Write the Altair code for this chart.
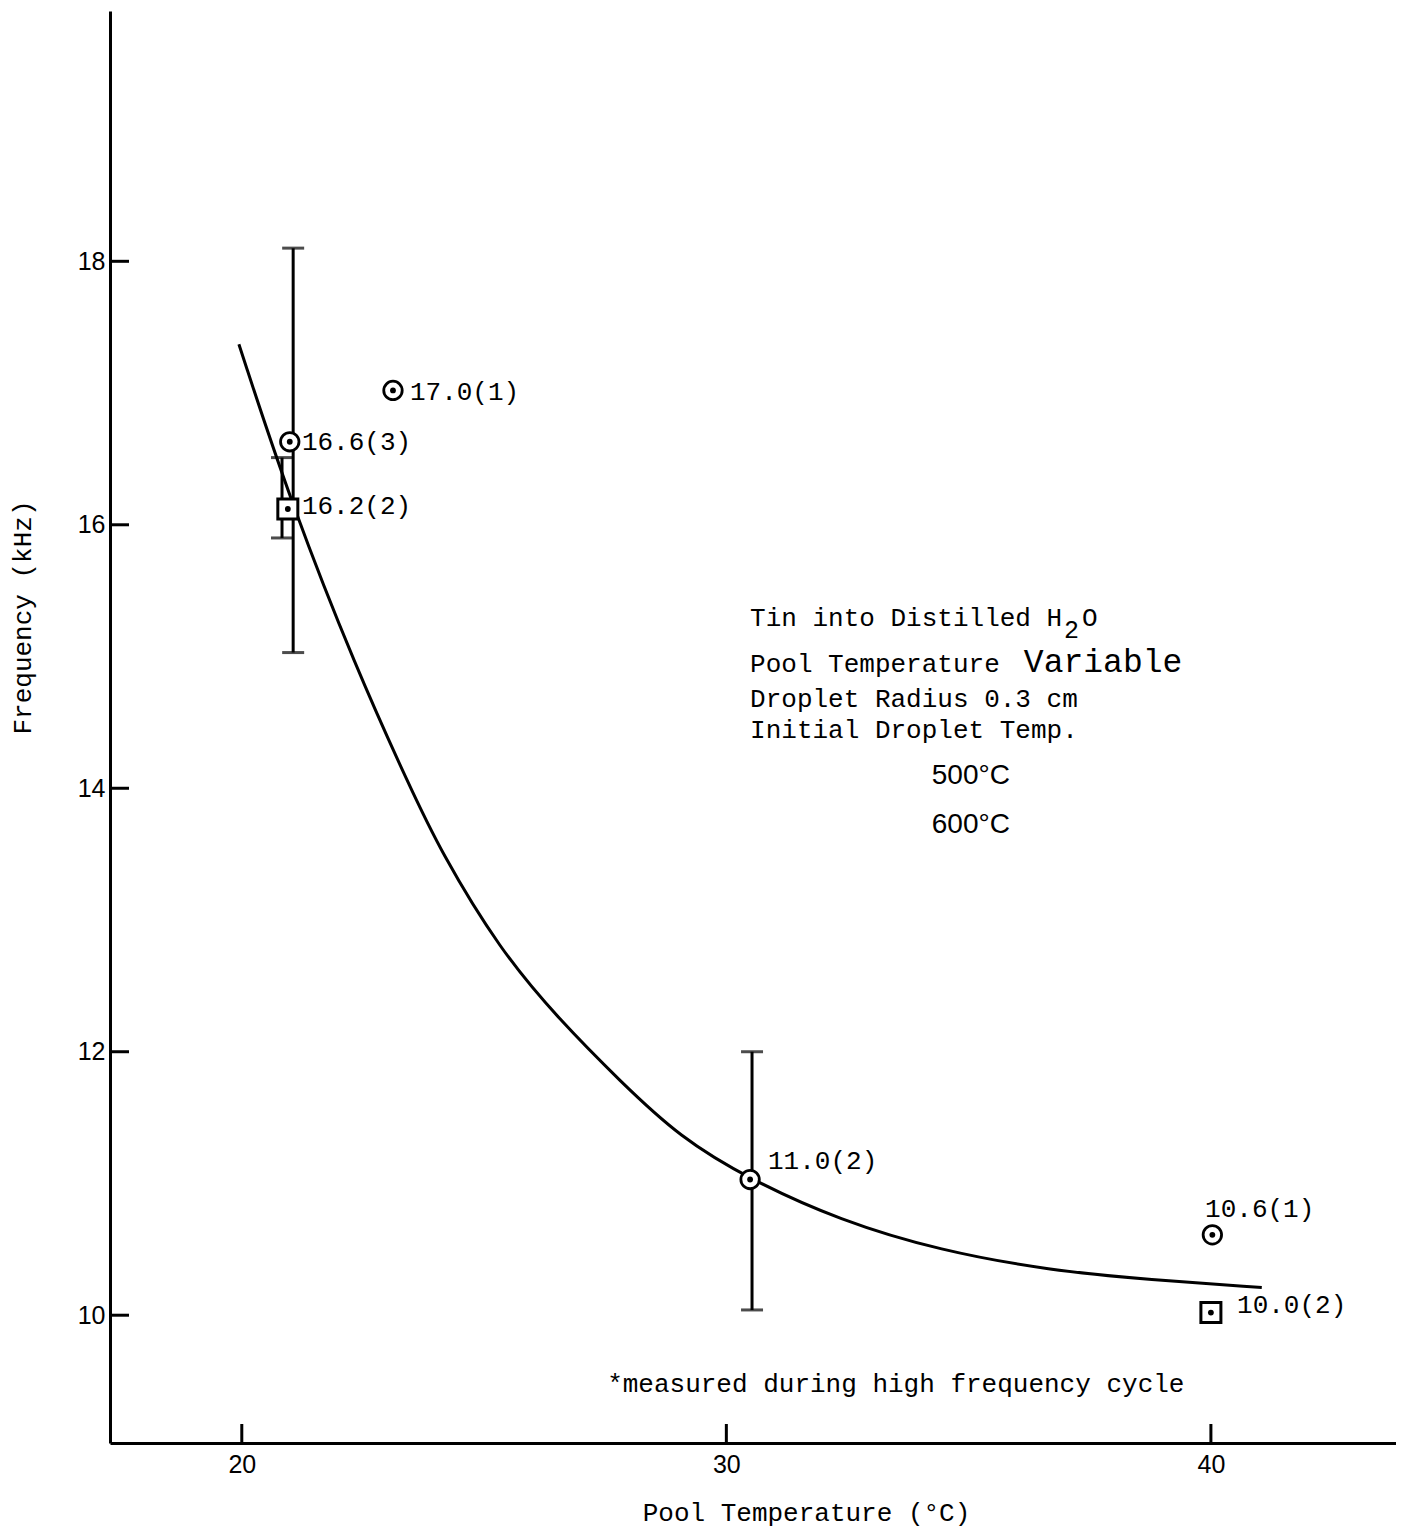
import altair as alt
import pandas as pd

# ---------------- data ----------------
# circle markers (open circle with centre dot)
circle_t = [23.12, 20.99, 30.49, 40.03]
circle_f = [17.02, 16.63, 11.03, 10.61]
# square markers (open square with centre dot)
square_t = [20.95, 40.00]
square_f = [16.12, 10.02]

# point labels
label_text = ["17.0(1)", "16.6(3)", "16.2(2)", "11.0(2)", "10.6(1)", "10.0(2)"]
label_t = [23.47, 21.24, 21.24, 30.86, 39.88, 40.54]
label_f = [17.01, 16.63, 16.14, 11.17, 10.81, 10.08]

# error bars
err_t = [21.06, 20.83, 30.53]
err_lo = [15.03, 15.90, 10.04]
err_hi = [18.10, 16.51, 12.00]

# hand-drawn fitted curve
curve_t = [19.94, 20.99, 22.37, 23.47, 24.09, 25.33, 26.56, 27.80, 29.04,
           30.49, 32.34, 34.41, 36.68, 38.74, 41.05]
curve_f = [17.37, 16.19, 14.90, 14.01, 13.53, 12.77, 12.24, 11.78, 11.35,
           11.03, 10.72, 10.49, 10.34, 10.27, 10.21]

x_ticks = [20, 30, 40]
y_ticks = [10, 12, 14, 16, 18]

# annotation block
mono_text = ["Tin into Distilled H", "O", "Pool Temperature", "Droplet Radius 0.3 cm",
             "Initial Droplet Temp.", "*measured during high frequency cycle"]
mono_t = [30.49, 37.34, 30.49, 30.49, 30.49, 27.54]
mono_f = [15.29, 15.29, 14.94, 14.68, 14.44, 9.48]
sub_text = ["2"]
sub_t = [36.97]
sub_f = [15.20]
big_text = ["Variable"]
big_t = [36.14]
big_f = [14.96]
sans_text = ["500°C", "600°C"]
sans_t = [34.24, 34.24]
sans_f = [14.09, 13.72]

X_DOMAIN = [17.28, 43.82]
Y_DOMAIN = [9.03, 19.90]
W, H = 1286, 1432
MONO = "Liberation Mono"
SANS = "Liberation Sans"

# ---------------- encodings ----------------
x_axis = alt.Axis(values=x_ticks, ticks=False, grid=False, domainWidth=3, domainColor="black",
                  labelFont=SANS, labelFontSize=25, labelColor="black", labelPadding=9,
                  title="Pool Temperature (°C)", titleFont=MONO, titleFontSize=26,
                  titleFontWeight="normal", titleColor="black", titleX=696, titleY=69,
                  titleBaseline="middle", titleAlign="center")
y_axis = alt.Axis(values=y_ticks, ticks=False, grid=False, domainWidth=3, domainColor="black",
                  labelFont=SANS, labelFontSize=25, labelColor="black", labelPadding=5,
                  title="Frequency (kHz)", titleFont=MONO, titleFontSize=26,
                  titleFontWeight="normal", titleColor="black", titleX=-88, titleY=606,
                  titleAngle=-90, titleBaseline="middle", titleAlign="center")

def X(field="t"):
    return alt.X(f"{field}:Q", scale=alt.Scale(domain=X_DOMAIN, nice=False, zero=False), axis=x_axis)

def Y(field="f"):
    return alt.Y(f"{field}:Q", scale=alt.Scale(domain=Y_DOMAIN, nice=False, zero=False), axis=y_axis)

# ---------------- layers ----------------
curve_df = pd.DataFrame({"t": curve_t, "f": curve_f})
curve = alt.Chart(curve_df).mark_line(color="black", strokeWidth=3, interpolate="basis").encode(
    x=X(), y=Y())

err_df = pd.DataFrame({"t": err_t, "f": err_lo, "f2": err_hi})
err_rule = alt.Chart(err_df).mark_rule(color="black", strokeWidth=3).encode(
    x=X(), y=Y(), y2="f2:Q")
cap_df = pd.DataFrame({"t": err_t + err_t, "f": err_lo + err_hi})
caps = alt.Chart(cap_df).mark_tick(color="black", orient="horizontal", size=22, thickness=3).encode(
    x=X(), y=Y())

xt_df = pd.DataFrame({"t": x_ticks})
xticks = alt.Chart(xt_df).mark_rule(color="black", strokeWidth=3).encode(
    x=X(), y=alt.value(H), y2=alt.value(H - 19))
yt_df = pd.DataFrame({"f": y_ticks})
yticks = alt.Chart(yt_df).mark_rule(color="black", strokeWidth=3).encode(
    y=Y(), x=alt.value(0), x2=alt.value(19))

circ_df = pd.DataFrame({"t": circle_t, "f": circle_f})
circles = alt.Chart(circ_df).mark_point(shape="circle", size=340, filled=False, fill="white",
                                        fillOpacity=1, stroke="black", strokeWidth=2.8).encode(
    x=X(), y=Y())
sq_df = pd.DataFrame({"t": square_t, "f": square_f})
squares = alt.Chart(sq_df).mark_point(shape="square", size=400, filled=False, fill="white",
                                      fillOpacity=1, stroke="black", strokeWidth=3).encode(
    x=X(), y=Y())
dot_df = pd.DataFrame({"t": circle_t + square_t, "f": circle_f + square_f})
dots = alt.Chart(dot_df).mark_point(shape="circle", size=34, filled=True, color="black",
                                    opacity=1).encode(x=X(), y=Y())

lbl_df = pd.DataFrame({"t": label_t, "f": label_f, "txt": label_text})
labels = alt.Chart(lbl_df).mark_text(font=MONO, fontSize=26, align="left", baseline="middle",
                                     color="black").encode(x=X(), y=Y(), text="txt:N")

mono_df = pd.DataFrame({"t": mono_t, "f": mono_f, "txt": mono_text})
mono = alt.Chart(mono_df).mark_text(font=MONO, fontSize=26, align="left", baseline="middle",
                                    color="black").encode(x=X(), y=Y(), text="txt:N")
sub_df = pd.DataFrame({"t": sub_t, "f": sub_f, "txt": sub_text})
sub = alt.Chart(sub_df).mark_text(font=MONO, fontSize=25, align="left", baseline="middle",
                                  color="black").encode(x=X(), y=Y(), text="txt:N")
big_df = pd.DataFrame({"t": big_t, "f": big_f, "txt": big_text})
big = alt.Chart(big_df).mark_text(font=MONO, fontSize=33, align="left", baseline="middle",
                                  color="black").encode(x=X(), y=Y(), text="txt:N")
sans_df = pd.DataFrame({"t": sans_t, "f": sans_f, "txt": sans_text})
sans = alt.Chart(sans_df).mark_text(font=SANS, fontSize=28, align="left", baseline="middle",
                                    color="black").encode(x=X(), y=Y(), text="txt:N")

chart = alt.layer(
    curve, err_rule, caps, xticks, yticks, circles, squares, dots, labels, mono, sub, big, sans
).properties(
    width=W, height=H,
    autosize=alt.AutoSizeParams(type="none"),
    padding={"left": 102, "top": 3, "right": 0, "bottom": 90},
    background="white",
).configure_view(stroke=None)

chart.save("out.html", embed_options={"renderer": "svg", "actions": False})
